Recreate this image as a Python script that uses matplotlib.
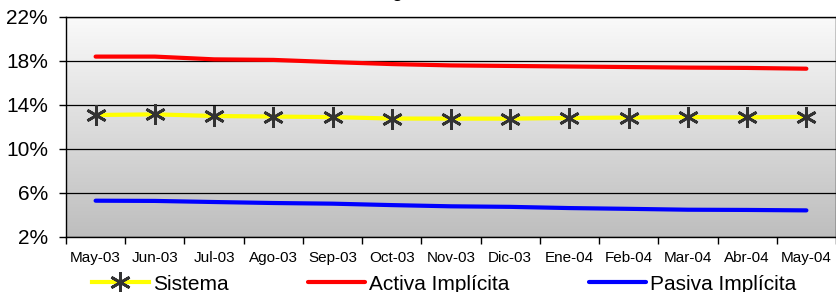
import matplotlib
matplotlib.use("Agg")
import matplotlib.pyplot as plt
import numpy as np
from matplotlib.colors import LinearSegmentedColormap
from matplotlib.ticker import FuncFormatter

plt.rcParams["font.family"] = ["Liberation Sans", "DejaVu Sans"]

MONTHS = ["May-03", "Jun-03", "Jul-03", "Ago-03", "Sep-03", "Oct-03", "Nov-03",
          "Dic-03", "Ene-04", "Feb-04", "Mar-04", "Abr-04", "May-04"]
SISTEMA = [13.09, 13.15, 13.0, 12.95, 12.9, 12.77, 12.76, 12.76, 12.82, 12.86, 12.9, 12.88, 12.92]
ACTIVA = [18.4, 18.4, 18.15, 18.1, 17.9, 17.72, 17.6, 17.55, 17.5, 17.45, 17.4, 17.37, 17.3]
PASIVA = [5.3, 5.28, 5.18, 5.09, 5.03, 4.9, 4.79, 4.74, 4.63, 4.56, 4.48, 4.46, 4.42]
Y_TICKS = [2, 6, 10, 14, 18, 22]
TITLE = "Margen de Intermediación"

W, H = 837, 292
fig = plt.figure(figsize=(W / 100, H / 100), dpi=100)
ax = fig.add_axes([66 / W, 1 - 237 / H, (836 - 66) / W, (237 - 17) / H])

# gradient plot area
cmap = LinearSegmentedColormap.from_list("bg", ["#bebebe", "#fafafa"])
grad = np.linspace(0, 1, 256).reshape(-1, 1)
ax.imshow(grad, extent=[0, 1, 0, 1], transform=ax.transAxes, cmap=cmap,
          aspect="auto", origin="lower", zorder=0)

x = np.arange(len(MONTHS))
star = (6, 2, 0)
ax.plot(x, SISTEMA, color="#ffff00", lw=3, marker=star, markersize=15,
        markeredgecolor="#333333", markeredgewidth=2, label="Sistema", zorder=3)
ax.plot(x, ACTIVA, color="#ff0000", lw=3, solid_capstyle="round", label="Activa Implícita", zorder=3)
ax.plot(x, PASIVA, color="#0000ff", lw=3, solid_capstyle="round", label="Pasiva Implícita", zorder=3)

ax.set_xlim(-0.5, len(MONTHS) - 0.5)
ax.set_ylim(2, 22)
ax.set_yticks(Y_TICKS)
ax.yaxis.set_major_formatter(FuncFormatter(lambda v, p: f"{v:.0f}%"))
ax.tick_params(axis="y", labelsize=15, length=5, width=1, pad=8, direction="out")
ax.yaxis.grid(True, color="black", lw=0.9)
ax.set_axisbelow(False)

ax.set_xticks(x)
ax.set_xticklabels(MONTHS, fontsize=11)
ax.set_xticks(np.arange(len(MONTHS) + 1) - 0.5, minor=True)
ax.tick_params(axis="x", which="major", length=0, pad=10)
ax.tick_params(axis="x", which="minor", length=5, width=1, direction="out")

for s in ax.spines.values():
    s.set_color("black")
    s.set_linewidth(1)

# title sits mostly above the picture, as in the source image
fig.text(466 / W, 1 + 2 / H, TITLE, ha="center", va="baseline",
         fontsize=12, fontweight="bold")

fig.legend(loc="center", bbox_to_anchor=(444 / W, 1 - 284 / H), ncol=3,
           frameon=False, fontsize=15, handlelength=2.75, handletextpad=0.2,
           columnspacing=3.8, borderpad=0, borderaxespad=0)

fig.savefig("out.png", dpi=100)
